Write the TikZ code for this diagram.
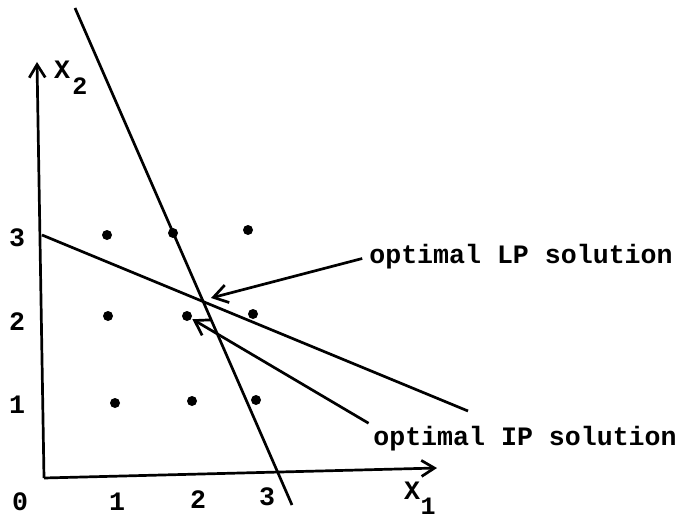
\documentclass[tikz,border=0pt]{standalone}
\usepackage{fontspec}
\setmonofont{Liberation Mono}
\usetikzlibrary{arrows.meta}
\begin{document}
\begin{tikzpicture}[x=0.5pt,y=-0.5pt,line width=1.35pt,
  dot/.style={circle,fill,inner sep=0pt,minimum size=5pt},
  lbl/.style={font=\fontsize{13.3}{16}\ttfamily\bfseries,inner sep=0pt},
  sub/.style={font=\fontsize{12.5}{15}\ttfamily\bfseries,inner sep=0pt},
  barb/.style={-{Straight Barb[length=7pt,width=9pt]}},
  axbarb/.style={-{Straight Barb[length=6.5pt,width=8pt]}}]
\useasboundingbox (0,0) rectangle (678,518);
% axes
\coordinate (O) at (44,478);
\coordinate (Ytip) at (37,62);
\coordinate (Xtip) at (437,468);
\draw[axbarb] (O) -- (Ytip);
\draw[axbarb] (O) -- (Xtip);
% constraint lines
\coordinate (A1) at (75,8);
\coordinate (A2) at (292,505);
\coordinate (B1) at (42,235);
\coordinate (B2) at (468,411);
\draw (A1) -- (A2);
\draw (B1) -- (B2);
% lattice points
\node[dot] (p13) at (107,235) {};
\node[dot] (p23) at (173,233) {};
\node[dot] (p33) at (248,230) {};
\node[dot] (p12) at (108,316) {};
\node[dot] (p22) at (187,316) {};
\node[dot] (p32) at (253,314) {};
\node[dot] (p11) at (115,403) {};
\node[dot] (p21) at (192,401) {};
\node[dot] (p31) at (256,400) {};
% axis labels
\node[lbl] (l0) at (20,502) {0};
\node[lbl] (lx1) at (117,502) {1};
\node[lbl] (lx2) at (198,500) {2};
\node[lbl] (lx3) at (267,497) {3};
\node[lbl] (ly3) at (17,238) {3};
\node[lbl] (ly2) at (17,322) {2};
\node[lbl] (ly1) at (17,405) {1};
\node[lbl] (X2a) at (62,70) {X};
\node[sub] (X2b) at (80,86) {2};
\node[lbl] (X1a) at (412,491) {X};
\node[sub] (X1b) at (428,506) {1};
% annotations
\node[lbl,anchor=west] (LP) at (368,257) {optimal LP solution};
\node[lbl,anchor=west] (IP) at (372,439) {optimal IP solution};
\coordinate (LPt) at (211,298);
\draw[barb,shorten <=3pt] (LP.west) -- (LPt);
\draw[barb,shorten <=2pt] (IP.north west) -- (p22);
\end{tikzpicture}
\end{document}
